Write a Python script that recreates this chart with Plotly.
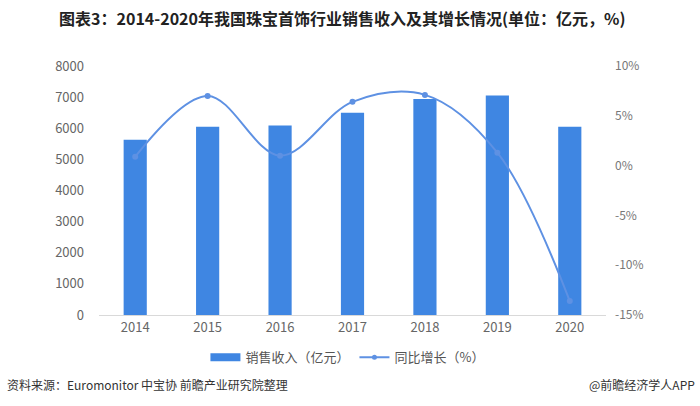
import plotly.graph_objects as go

years = ["2014", "2015", "2016", "2017", "2018", "2019", "2020"]
sales = [5630, 6050, 6090, 6500, 6940, 7050, 6050]
growth = [0.9, 7.0, 1.0, 6.4, 7.1, 1.3, -13.6]
left_ticks = [0, 1000, 2000, 3000, 4000, 5000, 6000, 7000, 8000]
right_ticks = [-15, -10, -5, 0, 5, 10]
right_labels = ["-15%", "-10%", "-5%", "0%", "5%", "10%"]

title = "图表3：2014-2020年我国珠宝首饰行业销售收入及其增长情况(单位：亿元，%)"
source = "资料来源：Euromonitor 中宝协 前瞻产业研究院整理"
brand = "@前瞻经济学人APP"
bar_name = "销售收入（亿元）"
line_name = "同比增长（%）"

FONT = "Noto Sans CJK SC"
bar_color = "#3f86e2"
line_color = "#5e91e3"

fig = go.Figure()
fig.add_trace(go.Bar(
    x=years, y=sales, name=bar_name, showlegend=False,
    marker=dict(color=bar_color, line=dict(width=0)),
    width=0.32, yaxis="y",
))
fig.add_trace(go.Scatter(
    x=years, y=growth, name=line_name, showlegend=False,
    mode="lines+markers", line=dict(color=line_color, width=2, shape="spline", smoothing=1.0),
    marker=dict(size=6, color=line_color), yaxis="y2",
))
# legend stand-ins (no data)
fig.add_trace(go.Scatter(x=[None], y=[None], name=bar_name, mode="lines",
                         line=dict(color=bar_color, width=8), yaxis="y"))
fig.add_trace(go.Scatter(x=[None], y=[None], name=line_name, mode="lines+markers",
                         line=dict(color=line_color, width=2), marker=dict(size=5, color=line_color),
                         yaxis="y2"))

fig.update_layout(
    width=700, height=406,
    margin=dict(l=99, r=94, t=66, b=91),
    paper_bgcolor="white", plot_bgcolor="white",
    font=dict(family=FONT, color="#666666", size=12),
    title=dict(text="<b>" + title + "</b>", x=0.489, xanchor="center", y=0.951, yanchor="middle",
               font=dict(family=FONT, size=16, color="#222222")),
    showlegend=True,
    legend=dict(orientation="h", x=0.49, xanchor="center", y=-0.17, yanchor="middle",
                font=dict(size=13, color="#555555"), itemwidth=30, traceorder="normal"),
    bargap=0.68,
    xaxis=dict(showgrid=False, showline=True, linecolor="#d9d9d9", linewidth=1,
               ticks="", tickfont=dict(size=13, color="#666666"), fixedrange=True),
    yaxis=dict(range=[0, 8000], tickvals=left_ticks, showgrid=False, zeroline=False,
               showline=False, tickfont=dict(size=13, color="#666666"), ticks="",
               ticklabelstandoff=14),
    yaxis2=dict(range=[-15, 10], tickvals=right_ticks, ticktext=right_labels, overlaying="y",
                side="right", showgrid=False, zeroline=False, showline=False,
                tickfont=dict(size=12, color="#777777"), ticks="", ticklabelstandoff=8),
)

fig.add_annotation(text=source, xref="paper", yref="paper", x=-94/507, xanchor="left",
                   y=-69/249, yanchor="middle", showarrow=False,
                   font=dict(family=FONT, size=12, color="#333333"))
fig.add_annotation(text=brand, xref="paper", yref="paper", x=(700-99-3)/507, xanchor="right",
                   y=-69/249, yanchor="middle", showarrow=False,
                   font=dict(family=FONT, size=12, color="#333333"))

fig.write_html("out.html", config={"displayModeBar": False},
               post_script="document.body.style.margin='0';document.body.style.padding='0';")
